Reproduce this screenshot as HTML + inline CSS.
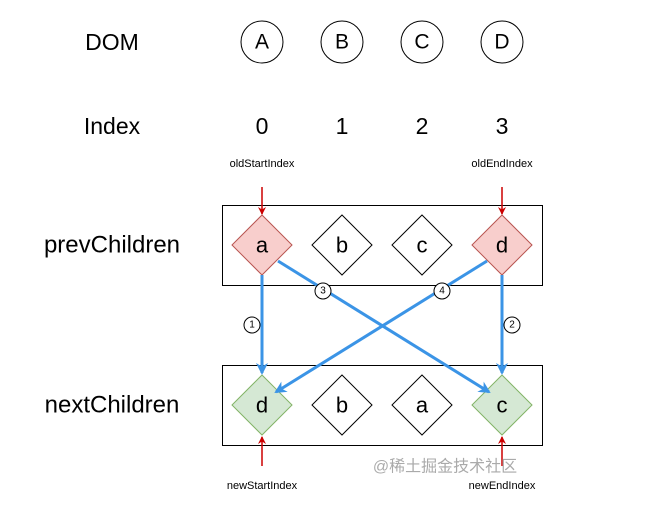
<!DOCTYPE html>
<html><head><style>
body{margin:0;background:#fff;}
svg{display:block;font-family:"Liberation Sans",Arial,sans-serif;}
</style></head><body>
<svg width="659" height="510" viewBox="0 0 659 510">
<defs>
<marker id="bl" markerWidth="12" markerHeight="12" refX="10" refY="6" orient="auto" markerUnits="userSpaceOnUse"><path d="M0,0 L12,6 L0,12 L3.5,6 Z" fill="#3b94e6"/></marker>
<marker id="rd" markerWidth="8" markerHeight="8" refX="7" refY="4" orient="auto" markerUnits="userSpaceOnUse"><path d="M0,0 L8,4 L0,8 L2.5,4 Z" fill="#c00"/></marker>
</defs>
<g fill="#000" font-size="23" text-anchor="middle" dominant-baseline="central">
<text x="112" y="42">DOM</text>
<text x="112" y="126">Index</text>
<text x="262" y="126">0</text><text x="342" y="126">1</text><text x="422" y="126">2</text><text x="502" y="126">3</text>
</g>
<g fill="none" stroke="#000" stroke-width="1">
<ellipse cx="262" cy="42" rx="21" ry="21"/><ellipse cx="342" cy="42" rx="21" ry="21"/>
<ellipse cx="422" cy="42" rx="21" ry="21"/><ellipse cx="502" cy="42" rx="21" ry="21"/>
</g>
<g font-size="21" text-anchor="middle" dominant-baseline="central">
<text x="262" y="42">A</text><text x="342" y="42">B</text><text x="422" y="42">C</text><text x="502" y="42">D</text>
</g>
<text x="112" y="245" font-size="24" text-anchor="middle" dominant-baseline="central">prevChildren</text>
<text x="112" y="405" font-size="24" text-anchor="middle" dominant-baseline="central">nextChildren</text>
<rect x="222.5" y="205.5" width="320" height="80" fill="none" stroke="#000"/>
<rect x="222.5" y="365.5" width="320" height="80" fill="none" stroke="#000"/>
<g stroke-width="1">
<path d="M262,215 L292,245 L262,275 L232,245Z" fill="#f8cecc" stroke="#b85450"/>
<path d="M342,215 L372,245 L342,275 L312,245Z" fill="#fff" stroke="#000"/>
<path d="M422,215 L452,245 L422,275 L392,245Z" fill="#fff" stroke="#000"/>
<path d="M502,215 L532,245 L502,275 L472,245Z" fill="#f8cecc" stroke="#b85450"/>
<path d="M262,375 L292,405 L262,435 L232,405Z" fill="#d5e8d4" stroke="#82b366"/>
<path d="M342,375 L372,405 L342,435 L312,405Z" fill="#fff" stroke="#000"/>
<path d="M422,375 L452,405 L422,435 L392,405Z" fill="#fff" stroke="#000"/>
<path d="M502,375 L532,405 L502,435 L472,405Z" fill="#d5e8d4" stroke="#82b366"/>
</g>
<g font-size="22" text-anchor="middle" dominant-baseline="central">
<text x="262" y="245">a</text><text x="342" y="245">b</text><text x="422" y="245">c</text><text x="502" y="245">d</text>
<text x="262" y="405">d</text><text x="342" y="405">b</text><text x="422" y="405">a</text><text x="502" y="405">c</text>
</g>
<g stroke="#3b94e6" stroke-width="3" fill="none">
<line x1="262" y1="275" x2="262" y2="373" marker-end="url(#bl)"/>
<line x1="502" y1="275" x2="502" y2="373" marker-end="url(#bl)"/>
<line x1="278" y1="261" x2="489" y2="392" marker-end="url(#bl)"/>
<line x1="487" y1="261" x2="276" y2="392" marker-end="url(#bl)"/>
</g>
<g stroke="#c00" stroke-width="1.5">
<line x1="262" y1="187" x2="262" y2="214" marker-end="url(#rd)"/>
<line x1="502" y1="187" x2="502" y2="214" marker-end="url(#rd)"/>
<line x1="262" y1="466" x2="262" y2="437" marker-end="url(#rd)"/>
<line x1="502" y1="466" x2="502" y2="437" marker-end="url(#rd)"/>
</g>
<g fill="#fff" stroke="#000">
<circle cx="252" cy="325" r="8"/><circle cx="512" cy="325" r="8"/>
<circle cx="323" cy="291" r="8"/><circle cx="442" cy="291" r="8"/>
</g>
<g font-size="10" text-anchor="middle" dominant-baseline="central">
<text x="252" y="325">1</text><text x="512" y="325">2</text><text x="323" y="291">3</text><text x="442" y="291">4</text>
</g>
<g font-size="11" text-anchor="middle" dominant-baseline="central">
<text x="262" y="164">oldStartIndex</text><text x="502" y="164">oldEndIndex</text>
<text x="262" y="486">newStartIndex</text><text x="502" y="486">newEndIndex</text>
</g>
<text x="445" y="467" font-size="16" fill="#aaa" text-anchor="middle" dominant-baseline="central" font-family="'Liberation Sans','Noto Sans CJK SC',sans-serif">@稀土掘金技术社区</text>
</svg>
</body></html>
